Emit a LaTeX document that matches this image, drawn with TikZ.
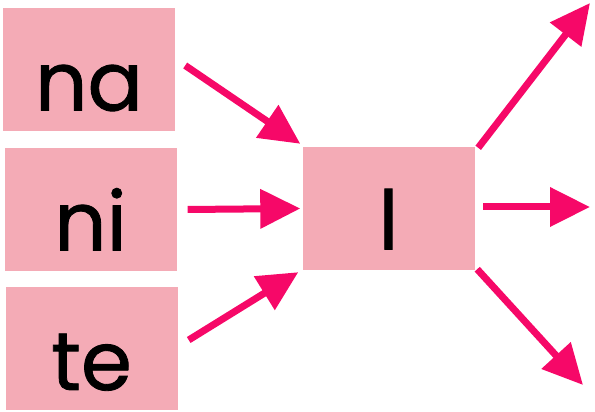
\documentclass[tikz,border=0pt]{standalone}
\usepackage{fontspec}
\newfontfamily\syllfont{Poppins}[FakeBold=1]
\usetikzlibrary{arrows.meta, positioning}
\definecolor{boxpink}{RGB}{244,171,182}
\definecolor{arrowpink}{RGB}{246,8,104}

\begin{document}
\begin{tikzpicture}[x=1pt, y=1pt,
  syll/.style={fill=boxpink, minimum width=172pt, minimum height=123pt,
    inner sep=0pt, text height=82pt, text depth=0pt,
    font=\syllfont\fontsize{82}{84}\selectfont},
  link/.style={draw=arrowpink, line width=7pt,
    -{Triangle[length=40pt, width=38pt]}}]
  \useasboundingbox (0,0) rectangle (595,412);

  % Syllable boxes
  \node[syll] (na) at (89,342.5) {na};
  \node[syll] (ni) at (90.5,202.5) {ni};
  \node[syll] (te) at (91.5,63) {te};
  \node[syll] (l) at (388.5,203.5) {l};

  % Free ends on the right
  \coordinate (up) at (590,409);
  \coordinate (mid) at (590,205);
  \coordinate (down) at (583,27);

  % Arrows into l
  \draw[link] ([shift={(10pt,4pt)}]na.east) -- ([shift={(-2pt,3pt)}]l.north west);
  \draw[link] ([xshift=11pt]ni.east) -- ([xshift=-2pt]l.west);
  \draw[link] ([shift={(11pt,9pt)}]te.east) -- ([shift={(-4pt,-2pt)}]l.south west);

  % Arrows out of l
  \draw[link] ([shift={(3.5pt,-1pt)}]l.north east) -- (up);
  \draw[link] ([shift={(8.5pt,1.5pt)}]l.east) -- (mid);
  \draw[link] ([shift={(2.5pt,1pt)}]l.south east) -- (down);
\end{tikzpicture}
\end{document}
